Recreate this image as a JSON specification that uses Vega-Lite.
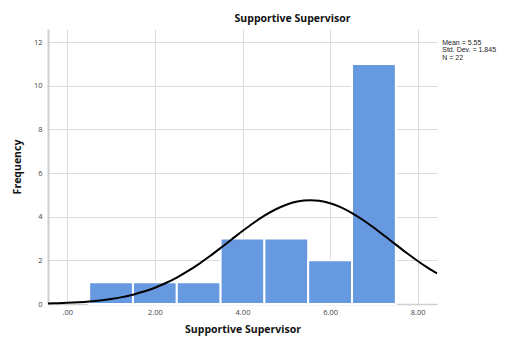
{
  "$schema": "https://vega.github.io/schema/vega-lite/v6.json",
  "width": 389,
  "height": 275,
  "autosize": "none",
  "padding": {"left": 48, "top": 29, "right": 69, "bottom": 35},
  "background": "white",
  "title": {"text": "Supportive Supervisor", "font": "Open Sans", "fontSize": 10.5, "fontWeight": "bold", "color": "#111", "dx": 50, "offset": 5},
  "config": {"view": {"stroke": null}},
  "datasets": {
    "bars": [
      {"lo": 0.5, "hi": 1.5, "count": 1},
      {"lo": 1.5, "hi": 2.5, "count": 1},
      {"lo": 2.5, "hi": 3.5, "count": 1},
      {"lo": 3.5, "hi": 4.5, "count": 3},
      {"lo": 4.5, "hi": 5.5, "count": 3},
      {"lo": 5.5, "hi": 6.5, "count": 2},
      {"lo": 6.5, "hi": 7.5, "count": 11}
    ],
    "curve": [
      {"x": -0.44, "y": 0.025},
      {"x": -0.25, "y": 0.034},
      {"x": 0, "y": 0.052},
      {"x": 0.25, "y": 0.077},
      {"x": 0.5, "y": 0.112},
      {"x": 0.75, "y": 0.161},
      {"x": 1, "y": 0.227},
      {"x": 1.25, "y": 0.315},
      {"x": 1.5, "y": 0.428},
      {"x": 1.75, "y": 0.571},
      {"x": 2, "y": 0.747},
      {"x": 2.25, "y": 0.961},
      {"x": 2.5, "y": 1.213},
      {"x": 2.75, "y": 1.504},
      {"x": 3, "y": 1.83},
      {"x": 3.25, "y": 2.187},
      {"x": 3.5, "y": 2.566},
      {"x": 3.75, "y": 2.956},
      {"x": 4, "y": 3.343},
      {"x": 4.25, "y": 3.711},
      {"x": 4.5, "y": 4.046},
      {"x": 4.75, "y": 4.33},
      {"x": 5, "y": 4.55},
      {"x": 5.25, "y": 4.695},
      {"x": 5.55, "y": 4.757},
      {"x": 5.75, "y": 4.729},
      {"x": 6, "y": 4.618},
      {"x": 6.25, "y": 4.427},
      {"x": 6.5, "y": 4.166},
      {"x": 6.75, "y": 3.85},
      {"x": 7, "y": 3.493},
      {"x": 7.25, "y": 3.112},
      {"x": 7.5, "y": 2.722},
      {"x": 7.75, "y": 2.337},
      {"x": 8, "y": 1.97},
      {"x": 8.25, "y": 1.63},
      {"x": 8.44, "y": 1.40}
    ],
    "stats": [
      {"label": ["Mean = 5.55", "Std. Dev. = 1.845", "N = 22"], "x": 8.56, "y": 12.15}
    ]
  },
  "layer": [
    {
      "data": {"name": "bars"},
      "mark": {"type": "rect", "color": "#6699E0", "stroke": "white", "strokeWidth": 2},
      "encoding": {
        "x": {
          "field": "lo", "type": "quantitative",
          "scale": {"domain": [-0.44, 8.44], "nice": false, "zero": false},
          "axis": {
            "title": "Supportive Supervisor",
            "titleFont": "Open Sans", "titleFontSize": 10.5, "titleFontWeight": "bold", "titleColor": "#111", "titlePadding": 9,
            "values": [0, 2, 4, 6, 8],
            "labelExpr": "datum.value == 0 ? '.00' : format(datum.value, '.2f')",
            "labelFont": "Open Sans", "labelFontSize": 7.5, "labelColor": "#444", "labelPadding": 4,
            "ticks": false,
            "grid": true, "gridColor": "#dcdcdc", "gridWidth": 1,
            "domain": true, "domainColor": "#cfcfcf", "domainWidth": 1.5
          }
        },
        "x2": {"field": "hi"},
        "y": {
          "field": "count", "type": "quantitative",
          "scale": {"domain": [0, 12.6], "nice": false},
          "axis": {
            "title": "Frequency",
            "titleFont": "Open Sans", "titleFontSize": 10.5, "titleFontWeight": "bold", "titleColor": "#111", "titlePadding": 11,
            "values": [0, 2, 4, 6, 8, 10, 12],
            "labelFont": "Open Sans", "labelFontSize": 7.5, "labelColor": "#444", "labelPadding": 6,
            "ticks": false,
            "grid": true, "gridColor": "#dcdcdc", "gridWidth": 1,
            "domain": true, "domainColor": "#cfcfcf", "domainWidth": 2
          }
        },
        "y2": {"datum": 0}
      }
    },
    {
      "data": {"name": "curve"},
      "mark": {"type": "line", "color": "#000", "strokeWidth": 2, "interpolate": "monotone"},
      "encoding": {
        "x": {"field": "x", "type": "quantitative"},
        "y": {"field": "y", "type": "quantitative"}
      }
    },
    {
      "data": {"name": "stats"},
      "mark": {"type": "text", "align": "left", "baseline": "top", "font": "Liberation Sans", "fontSize": 7, "lineHeight": 7.6, "color": "#222", "clip": false},
      "encoding": {
        "x": {"field": "x", "type": "quantitative"},
        "y": {"field": "y", "type": "quantitative"},
        "text": {"field": "label"}
      }
    }
  ]
}
